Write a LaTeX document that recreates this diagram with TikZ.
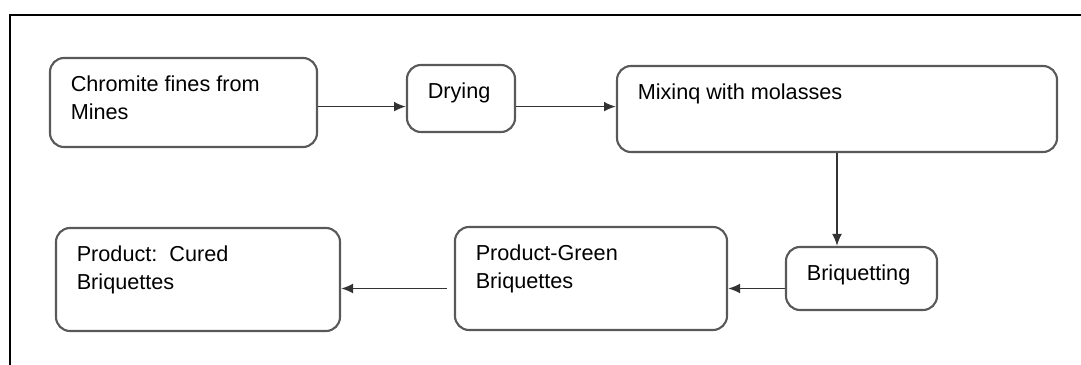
\documentclass[tikz,border=0pt]{standalone}
\usepackage{fontspec}
\setmainfont{Liberation Sans}
\usepackage{tikz}
\usetikzlibrary{arrows.meta, positioning, calc}

% text set at the top left corner of a box
\newcommand{\boxtext}[3]{\parbox[t][#2][t]{#1}{\raggedright #3}}

\begin{document}
\begin{tikzpicture}[
        procbox/.style={rectangle, rounded corners=0.35cm, draw=black!65, line width=1.5pt,
            inner xsep=0.52cm, inner ysep=0.45cm, font=\fontsize{15.4}{19.6}\selectfont},
        arr/.style={-{Latex[length=8.5pt, width=7pt]}, draw=black!80, line width=1.2pt},
        frame/.style={line width=1.5pt, black}
    ]
        \useasboundingbox (0,0) rectangle (27.025,9.125);
        % outer frame (left and top only)
        \draw[frame] (0.25,0) |- (27.025,8.75);

        % upper row
        \node[procbox] (chrom) at (4.5875,6.5625) {\boxtext{5.635cm}{1.325cm}{Chromite fines from\\Mines}};
        \node[procbox] (dry) at (11.525,6.6625) {\boxtext{1.66cm}{0.775cm}{Drying}};
        \node[procbox] (mix) at (20.925,6.4) {\boxtext{9.96cm}{1.25cm}{Mixinq with molasses}};

        % lower row
        \node[procbox] (brq) at (21.5375,2.1625) {\boxtext{2.735cm}{0.675cm}{Briquetting}};
        \node[procbox] (green) at (14.775,2.1625) {\boxtext{5.76cm}{1.675cm}{Product-Green\\Briquettes}};
        \node[procbox] (cured) at (4.95,2.1375) {\boxtext{6.06cm}{1.675cm}{Product:\ \ Cured\\Briquettes}};

        \coordinate (row1) at (0,6.46);
        \coordinate (row2) at (0,1.9125);

        % Chromite -> Drying -> Mixing
        \draw[arr] (chrom.east |- row1) -- (dry.west |- row1);
        \draw[arr] (dry.east |- row1) -- (mix.west |- row1);
        % Mixing -> Briquetting (down)
        \draw[arr] (mix.south) -- (mix.south |- brq.north);
        % Briquetting -> Green -> Cured
        \draw[arr] (brq.west |- row2) -- (green.east |- row2);
        \draw[arr, shorten <=0.18cm] (green.west |- row2) -- (cured.east |- row2);
    \end{tikzpicture}
\end{document}
